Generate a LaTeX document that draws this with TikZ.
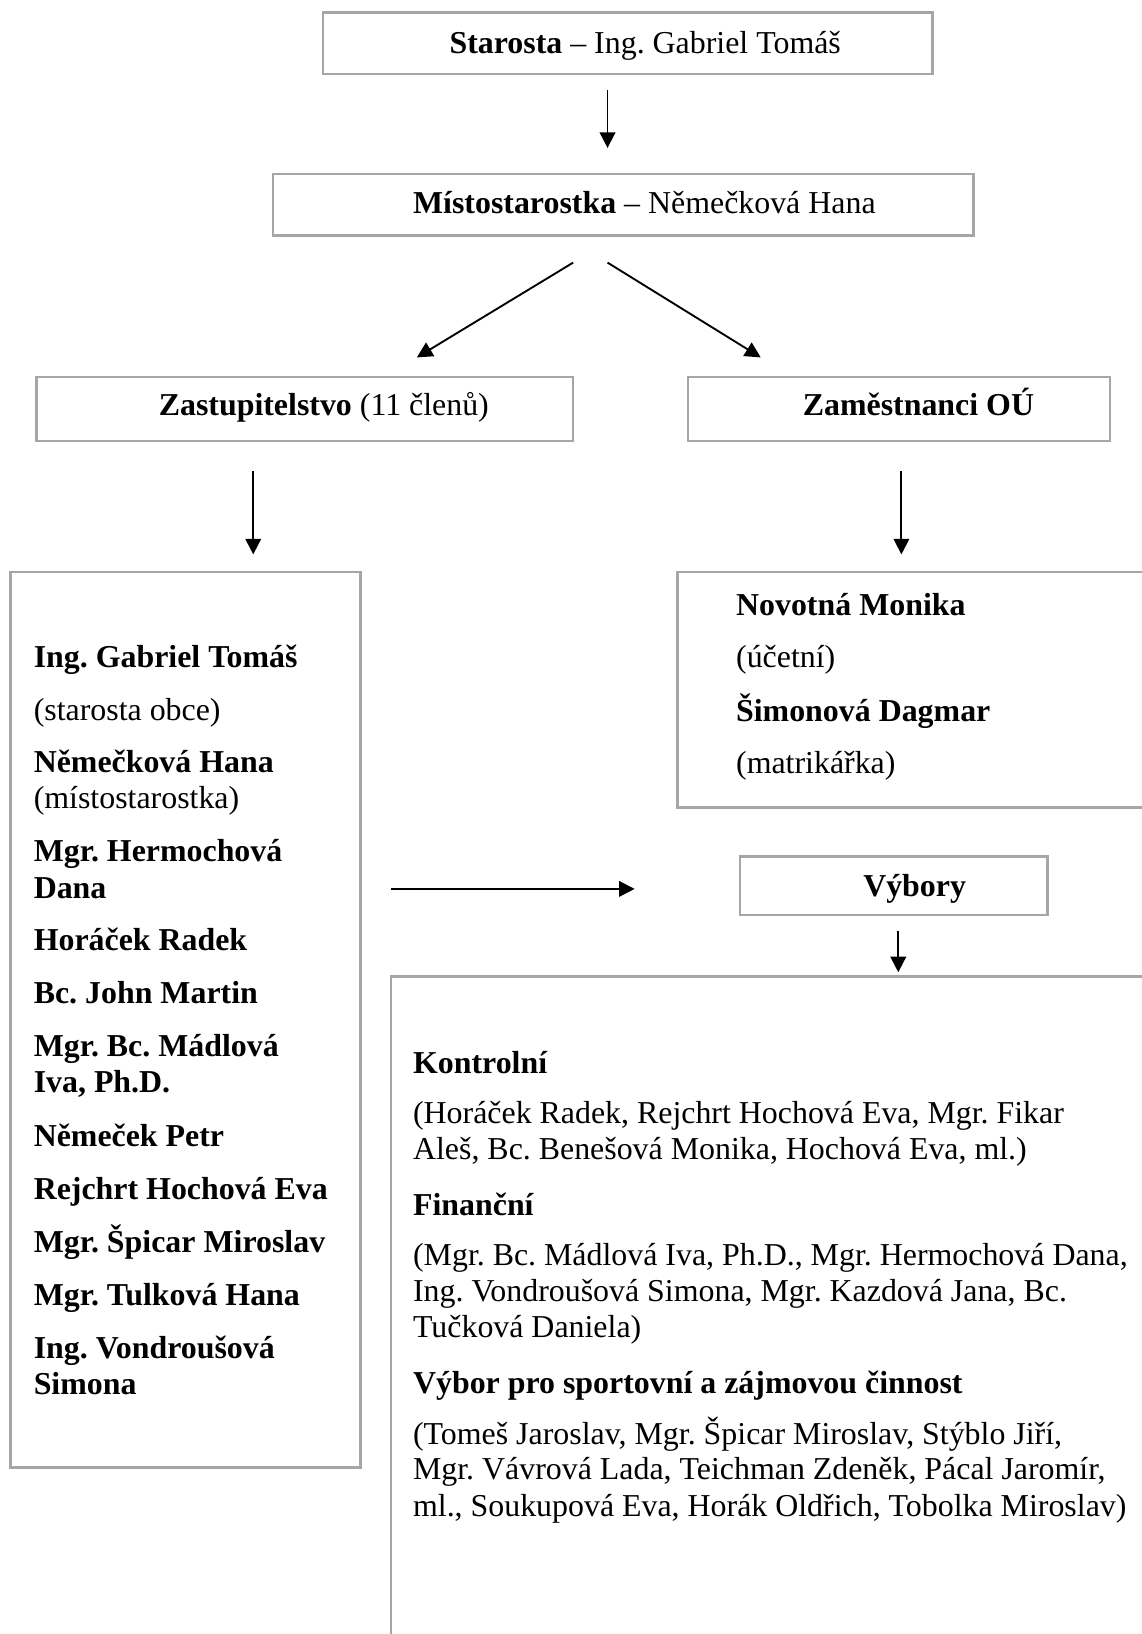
\documentclass[tikz,border=0pt]{standalone}
\usepackage{fontspec}
\setmainfont{Liberation Serif}
\usetikzlibrary{arrows.meta}
\definecolor{boxgray}{HTML}{A6A6A6}
\frenchspacing
\begin{document}
\begin{tikzpicture}[x=0.5pt,y=-0.5pt,
  box/.style={draw=boxgray, line width=1.2pt, inner sep=0pt, rectangle},
  txt/.style={anchor=base west, inner sep=0pt, font=\fontsize{15.3}{17.5}\selectfont},
  arr/.style={line width=0.9pt, -{Triangle[length=7.5pt,width=7.5pt]}}]
\useasboundingbox (0,0) rectangle (1095,1568);
% boxes
\node[box, minimum width=292.5pt, minimum height=29.5pt] (starosta) at (602.5,41.5) {};
\node[box, minimum width=336pt, minimum height=29.5pt] (misto) at (598,196.5) {};
\node[box, minimum width=257.5pt, minimum height=30.5pt] (zastup) at (292.5,392.5) {};
\node[box, minimum width=202.5pt, minimum height=30.5pt] (zames) at (862.5,392.5) {};
\node[box, minimum width=168pt, minimum height=429.5pt] (clenove) at (178,978.5) {};
\node[box, minimum width=235pt, minimum height=113pt] (zlist) at (885,662) {};
\node[box, minimum width=147.5pt, minimum height=28pt] (vybory) at (857.5,850) {};
\node[box, minimum width=372.5pt, minimum height=331.5pt] (vlist) at (747.5,1268.5) {};
% box titles
\node[txt] (tstar) at (431,51) {\textbf{Starosta} – Ing. Gabriel Tomáš};
\node[txt] (tmisto) at (396,205) {\textbf{Místostarostka} – Němečková Hana};
\node[txt] (tzast) at (152,399) {\textbf{Zastupitelstvo} (11 členů)};
\node[txt] (tzam) at (770,399) {\textbf{Zaměstnanci OÚ}};
\node[txt] (tvyb) at (828,860) {\textbf{Výbory}};
% council list
\node[txt] (c1) at (32,641) {\textbf{Ing. Gabriel Tomáš}};
\node[txt] (c2) at (32,691) {(starosta obce)};
\node[txt] (c3) at (32,741) {\textbf{Němečková Hana}};
\node[txt] (c4) at (32,776) {(místostarostka)};
\node[txt] (c5) at (32,827) {\textbf{Mgr. Hermochová}};
\node[txt] (c6) at (32,862) {\textbf{Dana}};
\node[txt] (c7) at (32,912) {\textbf{Horáček Radek}};
\node[txt] (c8) at (32,963) {\textbf{Bc. John Martin}};
\node[txt] (c9) at (32,1014) {\textbf{Mgr. Bc. Mádlová}};
\node[txt] (c10) at (32,1048) {\textbf{Iva, Ph.D.}};
\node[txt] (c11) at (32,1100) {\textbf{Němeček Petr}};
\node[txt] (c12) at (32,1151) {\textbf{Rejchrt Hochová Eva}};
\node[txt] (c13) at (32,1202) {\textbf{Mgr. Špicar Miroslav}};
\node[txt] (c14) at (32,1253) {\textbf{Mgr. Tulková Hana}};
\node[txt] (c15) at (32,1304) {\textbf{Ing. Vondroušová}};
\node[txt] (c16) at (32,1338) {\textbf{Simona}};
% staff list
\node[txt] (s1) at (706,591) {\textbf{Novotná Monika}};
\node[txt] (s2) at (706,641) {(účetní)};
\node[txt] (s3) at (706,692) {\textbf{Šimonová Dagmar}};
\node[txt] (s4) at (706,742) {(matrikářka)};
% committees list
\node[txt] (v1) at (396,1030) {\textbf{Kontrolní}};
\node[txt] (v2) at (396,1078) {(Horáček Radek, Rejchrt Hochová Eva, Mgr. Fikar};
\node[txt] (v3) at (396,1113) {Aleš, Bc. Benešová Monika, Hochová Eva, ml.)};
\node[txt] (v4) at (396,1166) {\textbf{Finanční}};
\node[txt] (v5) at (396,1214) {(Mgr. Bc. Mádlová Iva, Ph.D., Mgr. Hermochová Dana,};
\node[txt] (v6) at (396,1249) {Ing. Vondroušová Simona, Mgr. Kazdová Jana, Bc.};
\node[txt] (v7) at (396,1283) {Tučková Daniela)};
\node[txt] (v8) at (396,1337) {\textbf{Výbor pro sportovní a zájmovou činnost}};
\node[txt] (v9) at (396,1386) {(Tomeš Jaroslav, Mgr. Špicar Miroslav, Stýblo Jiří,};
\node[txt] (v10) at (396,1420) {Mgr. Vávrová Lada, Teichman Zdeněk, Pácal Jaromír,};
\node[txt] (v11) at (396,1455) {ml., Soukupová Eva, Horák Oldřich, Tobolka Miroslav)};
% arrow end points
\coordinate (a1s) at (583,86);  \coordinate (a1e) at (583,142);
\coordinate (a2s) at (550,252); \coordinate (a2e) at (400,343);
\coordinate (a3s) at (583,252); \coordinate (a3e) at (730,343);
\coordinate (a4s) at (243,452); \coordinate (a4e) at (243,532);
\coordinate (a5s) at (865,452); \coordinate (a5e) at (865,532);
\coordinate (a6s) at (375,853); \coordinate (a6e) at (609,853);
\coordinate (a7s) at (862,893); \coordinate (a7e) at (862,933);
\draw[arr] (a1s) -- (a1e);
\draw[arr] (a2s) -- (a2e);
\draw[arr] (a3s) -- (a3e);
\draw[arr] (a4s) -- (a4e);
\draw[arr] (a5s) -- (a5e);
\draw[arr] (a6s) -- (a6e);
\draw[arr] (a7s) -- (a7e);
\end{tikzpicture}
\end{document}
